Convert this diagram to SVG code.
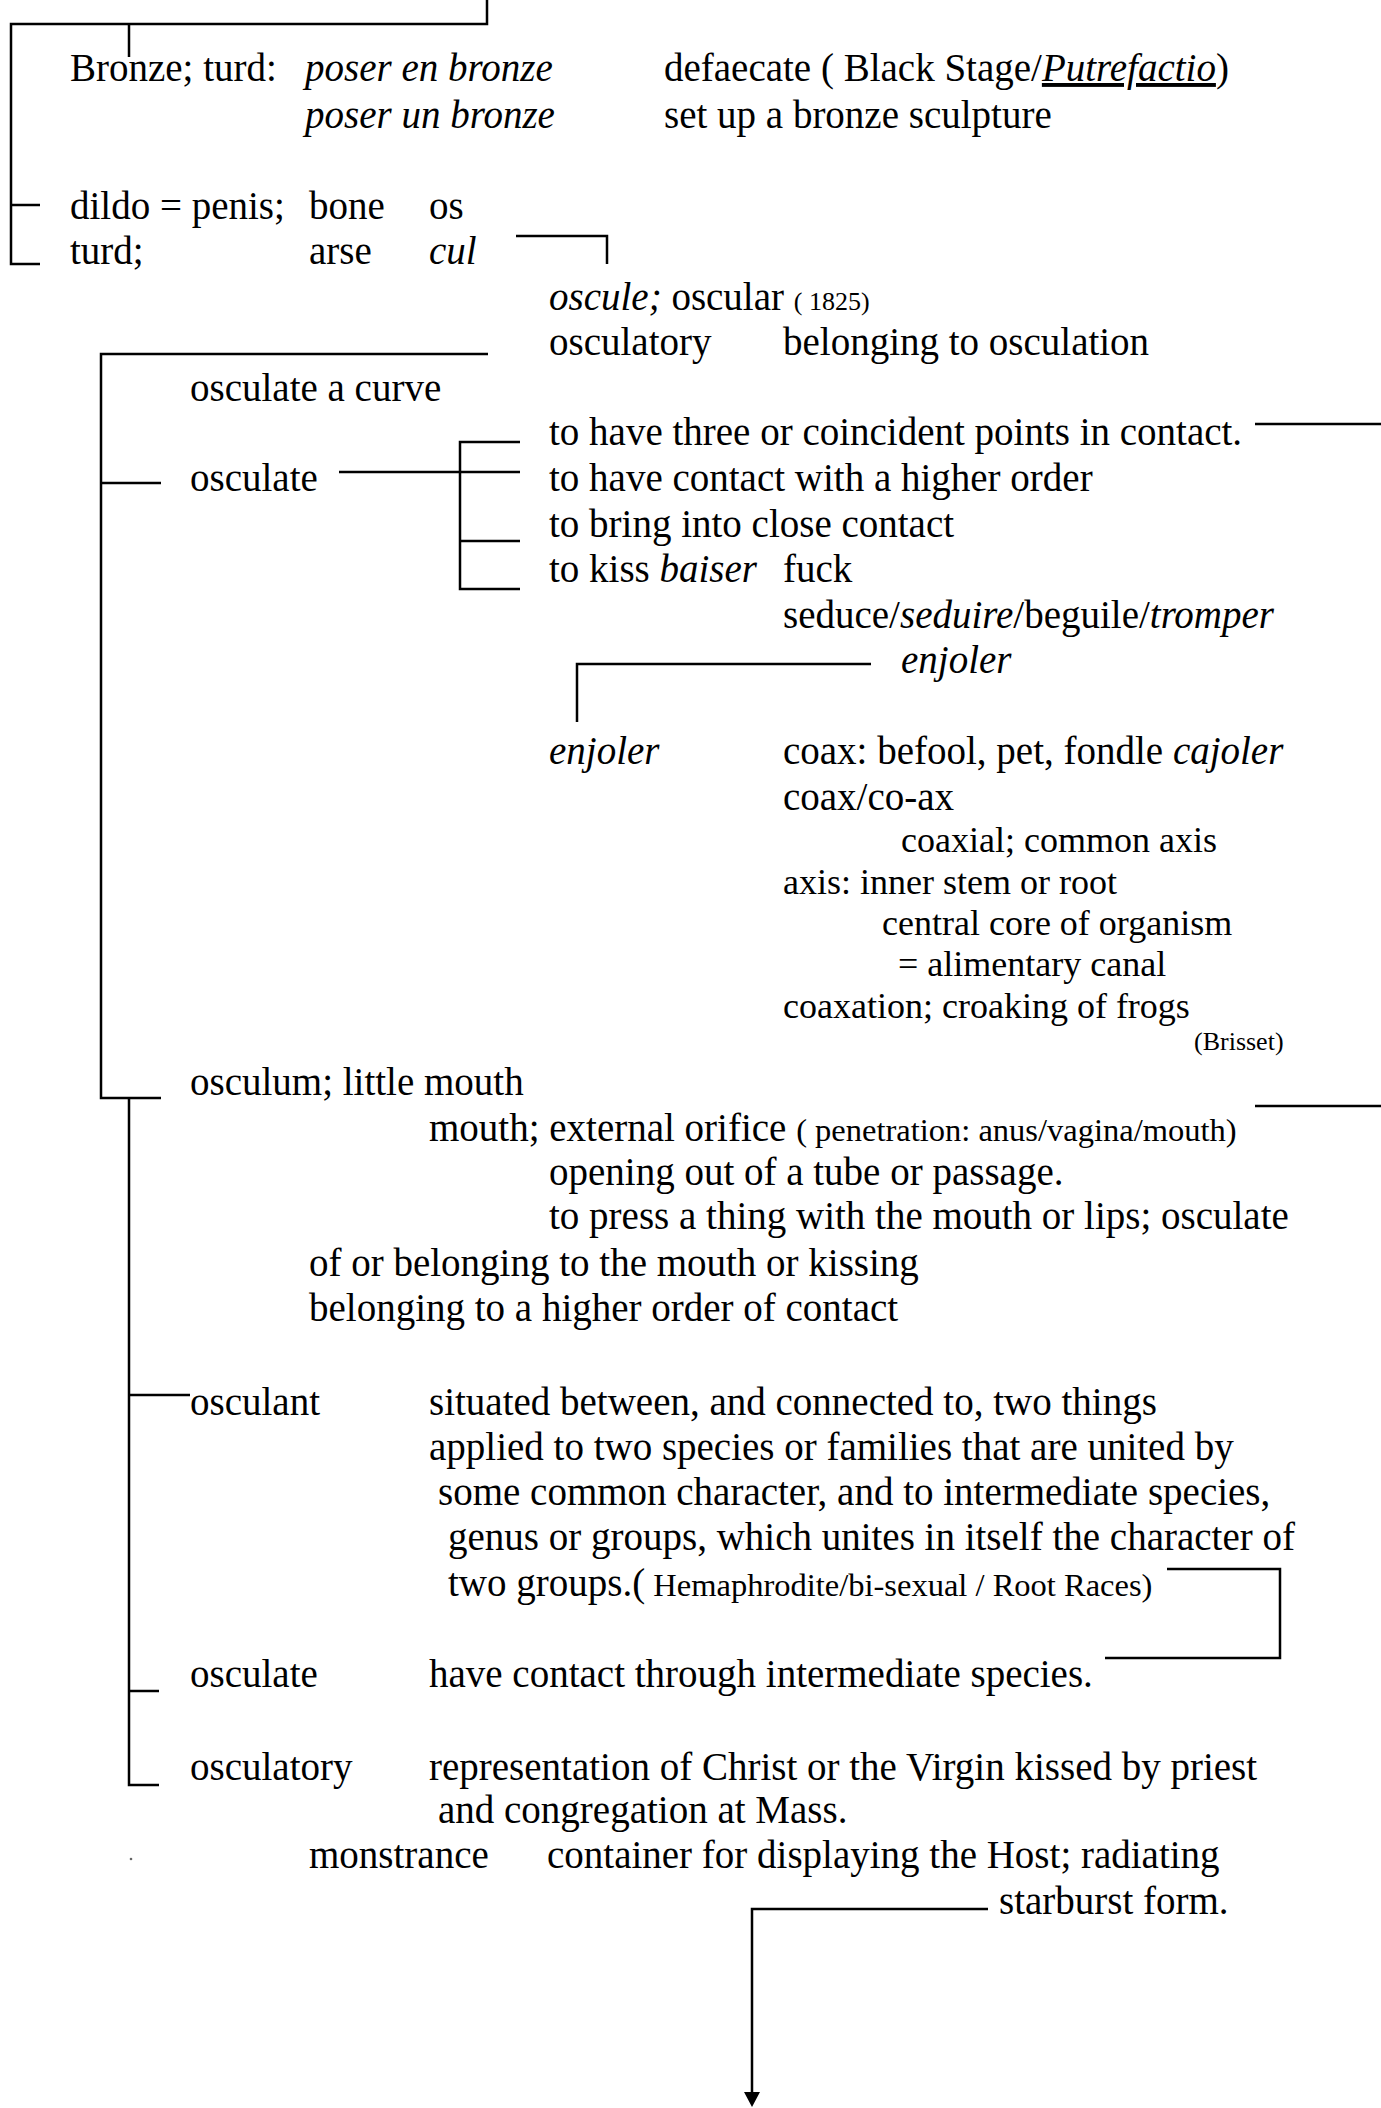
<svg xmlns="http://www.w3.org/2000/svg" width="1381" height="2108" viewBox="0 0 1381 2108">
  <style>
    .t { font-family: "Liberation Serif", "Times New Roman", serif; font-size: 39px; fill: #000; }
    .i { font-style: italic; }
    .s26 { font-size: 26px; }
    .s33 { font-size: 32.5px; }
    .s36 { font-size: 36px; }
    .u { text-decoration: underline; }
    .ln { fill: none; stroke: #000; stroke-width: 2.5; }
  </style>
  <defs>
    <!-- filled triangular head, drawn along the path direction -->
    <marker id="arrow" viewBox="0 0 16 16" refX="0" refY="8" markerWidth="16" markerHeight="16" markerUnits="userSpaceOnUse" orient="auto">
      <path d="M0,0 L15,8 L0,16 Z" fill="#000"/>
    </marker>
  </defs>
  <rect width="1381" height="2108" fill="#fff"/>

  <!-- connectors -->
  <g id="connectors" class="ln">
    <!-- top bracket -->
    <path d="M487,0 V24 H11 V264 H40"/>
    <path d="M129,24 V57"/>
    <path d="M11,205 H40"/>
    <!-- cul to oscule -->
    <path d="M516,236 H607 V264"/>
    <!-- osculate family bracket -->
    <path d="M488,354 H101 V1098 H161"/>
    <path d="M101,483 H161"/>
    <!-- osculate senses -->
    <path d="M339,472 H520"/>
    <path d="M520,442 H460 V589 H520"/>
    <path d="M460,541 H520"/>
    <!-- outgoing lines at right edge -->
    <path d="M1255,424 H1381"/>
    <path d="M1255,1106 H1381"/>
    <!-- enjoler -->
    <path d="M871,664 H577 V722"/>
    <!-- osculum sub-bracket -->
    <path d="M129,1098 V1785 H159"/>
    <path d="M129,1395 H190"/>
    <path d="M129,1691 H159"/>
    <!-- root races loop -->
    <path d="M1167,1569 H1280 V1658 H1105"/>
    <!-- starburst downward arrow -->
    <path d="M988,1909 H752 V2092" marker-end="url(#arrow)"/>
  </g>
  <circle cx="131" cy="1859" r="1.3" fill="#666"/>

  <!-- entries -->
  <g id="bronze">
    <text class="t" x="70" y="81">Bronze; turd:</text>
    <text class="t i" x="305" y="81">poser en bronze</text>
    <text class="t" x="664" y="81">defaecate ( Black Stage/<tspan class="i u">Putrefactio</tspan>)</text>
    <text class="t i" x="305" y="128">poser un bronze</text>
    <text class="t" x="664" y="128">set up a bronze sculpture</text>
  </g>
  <g id="dildo">
    <text class="t" x="70" y="219">dildo = penis;</text>
    <text class="t" x="309" y="219">bone</text>
    <text class="t" x="429" y="219">os</text>
  </g>
  <g id="turd">
    <text class="t" x="70" y="264">turd;</text>
    <text class="t" x="309" y="264">arse</text>
    <text class="t i" x="429" y="264">cul</text>
  </g>
  <g id="oscule">
    <text class="t" x="549" y="310"><tspan class="i">oscule;</tspan> oscular <tspan class="s26">( 1825)</tspan></text>
    <text class="t" x="549" y="355">osculatory</text>
    <text class="t" x="783" y="355">belonging to osculation</text>
  </g>
  <g id="osculate-curve">
    <text class="t" x="190" y="401">osculate a curve</text>
  </g>
  <g id="osculate">
    <text class="t" x="190" y="491">osculate</text>
  </g>
  <g id="senses">
    <text class="t" x="549" y="445">to have three or coincident points in contact.</text>
    <text class="t" x="549" y="491">to have contact with a higher order</text>
    <text class="t" x="549" y="537">to bring into close contact</text>
    <text class="t" x="549" y="582">to kiss  <tspan class="i">baiser</tspan></text>
    <text class="t" x="783" y="582">fuck</text>
    <text class="t" x="783" y="628">seduce/<tspan class="i">seduire</tspan>/beguile/<tspan class="i">tromper</tspan></text>
    <text class="t i" x="901" y="673">enjoler</text>
  </g>
  <g id="enjoler">
    <text class="t i" x="549" y="764">enjoler</text>
    <text class="t" x="783" y="764">coax: befool, pet, fondle <tspan class="i">cajoler</tspan></text>
    <text class="t" x="783" y="810">coax/co-ax</text>
    <text class="t s36" x="901" y="852">coaxial; common axis</text>
    <text class="t s36" x="783" y="894">axis: inner stem or root</text>
    <text class="t s36" x="882" y="935">central core of organism</text>
    <text class="t s36" x="898" y="976">= alimentary canal</text>
    <text class="t s36" x="783" y="1018">coaxation; croaking of frogs</text>
    <text class="t s26" x="1194" y="1050">(Brisset)</text>
  </g>
  <g id="osculum">
    <text class="t" x="190" y="1095">osculum; little mouth</text>
    <text class="t" x="429" y="1141">mouth; external orifice <tspan class="s33">( penetration: anus/vagina/mouth)</tspan></text>
    <text class="t" x="549" y="1185">opening out of a tube or passage.</text>
    <text class="t" x="549" y="1229">to press a thing with the mouth or lips; osculate</text>
    <text class="t" x="309" y="1276">of or belonging to the mouth or kissing</text>
    <text class="t" x="309" y="1321">belonging to a higher order of contact</text>
  </g>
  <g id="osculant">
    <text class="t" x="190" y="1415">osculant</text>
    <text class="t" x="429" y="1415">situated between, and connected to, two things</text>
    <text class="t" x="429" y="1460">applied to two species or families that are united by</text>
    <text class="t" x="438" y="1505">some common character, and to intermediate species,</text>
    <text class="t" x="448" y="1550">genus or groups, which unites in itself the character of</text>
    <text class="t" x="448" y="1596">two groups.(<tspan class="s33"> Hemaphrodite/bi-sexual / Root Races)</tspan></text>
  </g>
  <g id="osculate-species">
    <text class="t" x="190" y="1687">osculate</text>
    <text class="t" x="429" y="1687">have contact through intermediate species.</text>
  </g>
  <g id="osculatory">
    <text class="t" x="190" y="1780">osculatory</text>
    <text class="t" x="429" y="1780">representation of Christ or the Virgin kissed by priest</text>
    <text class="t" x="438" y="1823">and congregation at Mass.</text>
  </g>
  <g id="monstrance">
    <text class="t" x="309" y="1868">monstrance</text>
    <text class="t" x="547" y="1868">container for displaying the Host; radiating</text>
    <text class="t" x="999" y="1914">starburst form.</text>
  </g>
</svg>
